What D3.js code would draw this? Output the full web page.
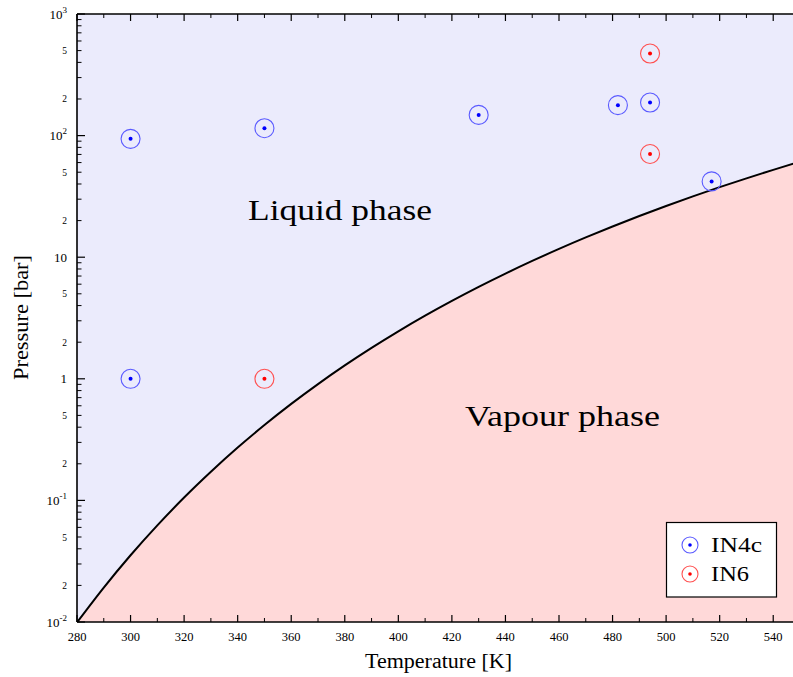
<!DOCTYPE html>
<html><head><meta charset="utf-8">
<script src="https://cdn.jsdelivr.net/npm/d3@7"></script>
<style>
body{margin:0;background:#fff}
svg{display:block}
text{font-family:"Liberation Serif","DejaVu Serif",serif;fill:#000}
</style>
</head><body>
<svg id="c" width="793" height="677"></svg>
<script>
// Saturation (vapour/liquid boundary) curve
const curveT = [280,290,300,310,320,330,340,350,360,370,380,390,400,410,420,430,440,450,460,470,480,490,500,510,520,530,540,550];
const curveP = [0.00992,0.0192,0.0354,0.0623,0.1055,0.1719,0.2718,0.4169,0.6219,0.9051,1.2885,1.7964,2.4577,3.3045,4.3701,5.6996,7.3308,9.3158,11.703,14.545,17.901,21.810,26.392,31.665,37.690,44.526,52.267,61.041];
// Measurement points
const in4cT = [300,350,430,482,494,517,300];
const in4cP = [94,115,148,178,187,42,1];
const in6T = [494,494,350];
const in6P = [473,70.6,1];
// Ticks
const xMajor = [280,300,320,340,360,380,400,420,440,460,480,500,520,540];
const xMinor = [290,310,330,350,370,390,410,430,450,470,490,510,530,550];
const yDecades = [0.01,0.1,1,10,100,1000];
const yDecadeBase = ["10","10","1","10","10","10"];
const yDecadeExp = ["-2","-1","","","2","3"];
const yMinorLabelled = [2,5];

const svg = d3.select("#c");
const L=77, R=800, T=14, B=622;
const x = d3.scaleLinear().domain([280,550]).range([L,R]);
const y = d3.scaleLog().domain([0.01,1000]).range([B,T]);

svg.append("clipPath").attr("id","pc").append("rect")
  .attr("x",L).attr("y",T).attr("width",R-L).attr("height",B-T);
const g = svg.append("g").attr("clip-path","url(#pc)");

// liquid background
g.append("rect").attr("x",L).attr("y",T).attr("width",R-L).attr("height",B-T).attr("fill","#ebebfc");
const pts = curveT.map((t,i)=>[t,curveP[i]]);
const area = d3.area().x(d=>x(d[0])).y0(B+5).y1(d=>y(d[1])).curve(d3.curveMonotoneX);
g.append("path").datum(pts).attr("d",area).attr("fill","#ffd9d9");
const line = d3.line().x(d=>x(d[0])).y(d=>y(d[1])).curve(d3.curveMonotoneX);
g.append("path").datum(pts).attr("d",line).attr("fill","none").attr("stroke","#000").attr("stroke-width",2);

// phase labels
svg.append("text").attr("x",248).attr("y",220).attr("font-size",29)
  .attr("textLength",184).attr("lengthAdjust","spacingAndGlyphs").text("Liquid phase");
svg.append("text").attr("x",465).attr("y",426).attr("font-size",29)
  .attr("textLength",195).attr("lengthAdjust","spacingAndGlyphs").text("Vapour phase");

// markers
function drawPts(T,P,col,ring){
  const m = g.selectAll(null).data(T.map((t,i)=>[t,P[i]])).enter().append("g")
    .attr("transform",d=>`translate(${x(d[0])},${y(d[1])})`);
  m.append("circle").attr("r",9.5).attr("fill","none").attr("stroke",ring).attr("stroke-width",1.1);
  m.append("circle").attr("r",2).attr("fill",col);
}
drawPts(in4cT,in4cP,"#0000ff","#5a5aff");
drawPts(in6T,in6P,"#ff0000","#ff5050");

// axes frame
const ax = svg.append("g").attr("stroke","#000");
ax.append("line").attr("x1",L).attr("x2",R).attr("y1",B).attr("y2",B).attr("stroke-width",1.6);
ax.append("line").attr("x1",L).attr("x2",R).attr("y1",T).attr("y2",T).attr("stroke-width",1.6);
ax.append("line").attr("x1",L).attr("x2",L).attr("y1",T).attr("y2",B).attr("stroke-width",1.6);

// x ticks
xMajor.forEach(v=>{
  ax.append("line").attr("x1",x(v)).attr("x2",x(v)).attr("y1",B).attr("y2",B-7).attr("stroke-width",1.2);
  ax.append("line").attr("x1",x(v)).attr("x2",x(v)).attr("y1",T).attr("y2",T+7).attr("stroke-width",1.2);
  svg.append("text").attr("x",x(v)).attr("y",641).attr("text-anchor","middle").attr("font-size",12.5).text(v);
});
xMinor.forEach(v=>{
  ax.append("line").attr("x1",x(v)).attr("x2",x(v)).attr("y1",B).attr("y2",B-4).attr("stroke-width",1);
  ax.append("line").attr("x1",x(v)).attr("x2",x(v)).attr("y1",T).attr("y2",T+4).attr("stroke-width",1);
});

// y ticks
yDecades.forEach((v,i)=>{
  ax.append("line").attr("x1",L).attr("x2",L+8).attr("y1",y(v)).attr("y2",y(v)).attr("stroke-width",1.2);
  const t = svg.append("text").attr("x",67).attr("y",y(v)+4.5).attr("text-anchor","end").attr("font-size",13);
  t.append("tspan").text(yDecadeBase[i]);
  if(yDecadeExp[i]) t.append("tspan").attr("dy",-6).attr("font-size",9).text(yDecadeExp[i]);
  if(i<yDecades.length-1){
    for(let k=2;k<=9;k++){
      const mv=v*k;
      ax.append("line").attr("x1",L).attr("x2",L+4.5).attr("y1",y(mv)).attr("y2",y(mv)).attr("stroke-width",1);
      if(yMinorLabelled.includes(k))
        svg.append("text").attr("x",67).attr("y",y(mv)+3.5).attr("text-anchor","end").attr("font-size",9.5).text(k);
    }
  }
});

// axis titles
svg.append("text").attr("x",365).attr("y",668).attr("font-size",20)
  .attr("textLength",147).attr("lengthAdjust","spacingAndGlyphs").text("Temperature [K]");
svg.append("text").attr("transform","translate(28,380) rotate(-90)").attr("font-size",20)
  .attr("textLength",125).attr("lengthAdjust","spacingAndGlyphs").text("Pressure [bar]");

// legend
const lg = svg.append("g");
lg.append("rect").attr("x",666.5).attr("y",522.5).attr("width",110).attr("height",74.5).attr("fill","#fff").attr("stroke","#000").attr("stroke-width",1.2);
[["IN4c","#0000ff","#5a5aff",545,51],["IN6","#ff0000","#ff5050",574,38]].forEach(([n,c,r,yy,w])=>{
  lg.append("circle").attr("cx",690).attr("cy",yy).attr("r",8).attr("fill","none").attr("stroke",r).attr("stroke-width",1.1);
  lg.append("circle").attr("cx",690).attr("cy",yy).attr("r",1.8).attr("fill",c);
  lg.append("text").attr("x",711).attr("y",yy+7).attr("font-size",21)
    .attr("textLength",w).attr("lengthAdjust","spacingAndGlyphs").text(n);
});
</script>
</body></html>
